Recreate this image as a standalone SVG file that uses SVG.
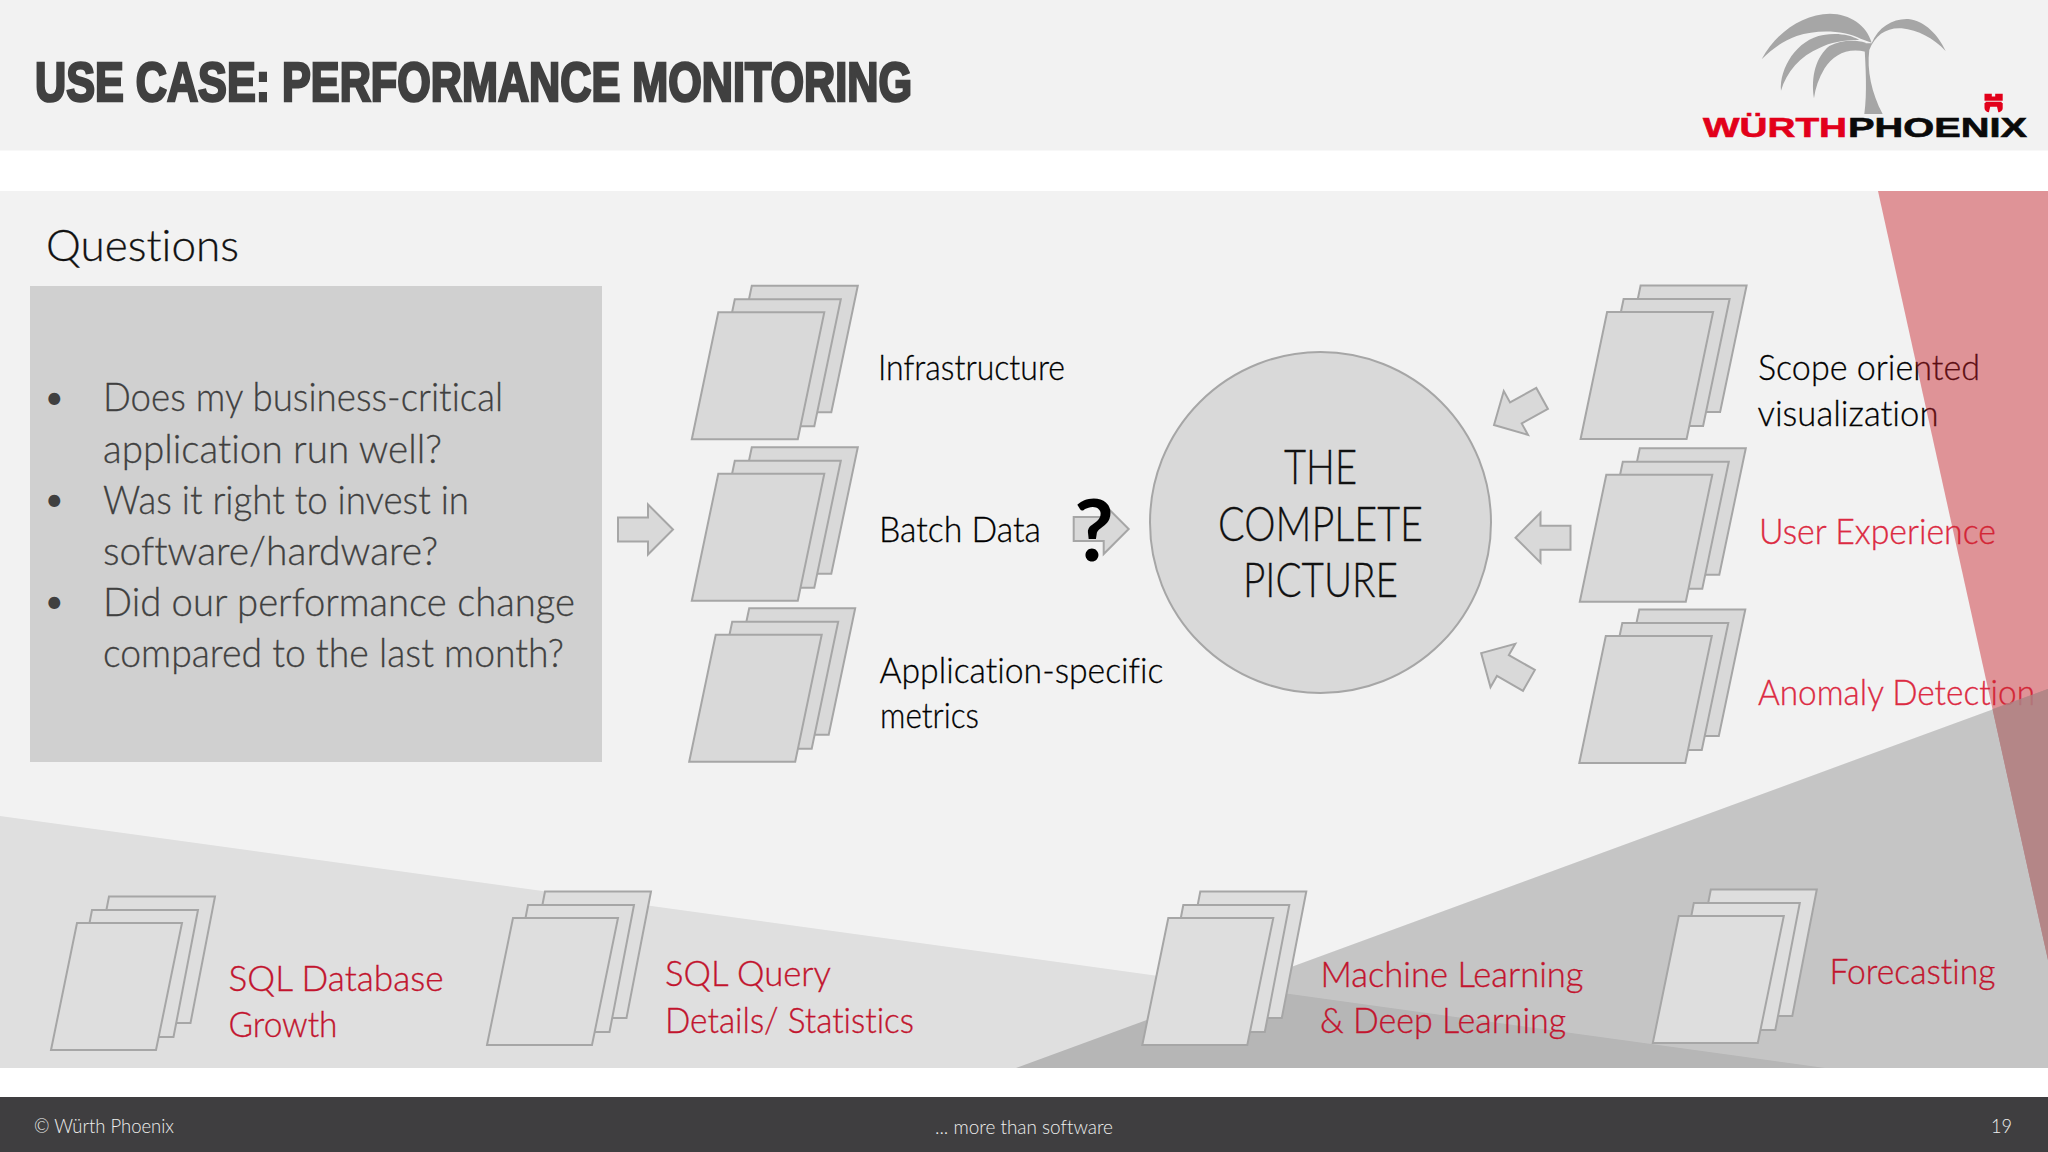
<svg xmlns="http://www.w3.org/2000/svg" width="2048" height="1152" viewBox="0 0 2048 1152">
<style>
text{font-family:"Lato","Liberation Sans",sans-serif;font-weight:300;font-variant-ligatures:none}
.lb{font-size:36px;fill:#000;stroke:#000;stroke-width:.3}
.r1{font-size:36px;fill:#dc2a42;stroke:#dc2a42;stroke-width:.35}
.r2{font-size:36px;fill:#c2142e;stroke:#c2142e;stroke-width:.35}
.bl{font-size:40px;fill:#404040;stroke:#404040;stroke-width:.3}
.bu{font-size:32px;fill:#404040;font-weight:400}
.ct{font-size:48px;fill:#111;stroke:#111;stroke-width:.3;text-anchor:middle}
.ft{font-size:20px;fill:#eee}
.pg{fill:#d9d9d9;stroke:#a6a6a6;stroke-width:2}
.pgl{fill:#dedede;stroke:#a6a6a6;stroke-width:2}
.ar{fill:#d9d9d9;stroke:#a6a6a6;stroke-width:2}
.palm{fill:#a6a6a6}
.logo{font-weight:700;font-size:27px;stroke-width:.6}
.logo,.title{font-family:"Liberation Sans",sans-serif}
.title{font-weight:700;font-size:55px;fill:#404040;stroke:#404040;stroke-width:2.6}
.q{font-weight:700;font-size:86px;fill:#000;text-anchor:middle}
</style>
<defs>
<g id="stack"><polygon class="pg" points="33.5,-27 60,-153.5 166,-153.5 139.5,-27"/><polygon class="pg" points="16.5,-13 43,-140 149,-140 122.5,-13"/><polygon class="pg" points="0,0 26.5,-127 132.5,-127 106,0"/></g>
<g id="stackl"><polygon class="pgl" points="33.5,-27 58,-153.5 164,-153.5 139.5,-27"/><polygon class="pgl" points="16.5,-13 41,-140 147,-140 122.5,-13"/><polygon class="pgl" points="0,0 26,-127 131,-127 105,0"/></g>
<polygon id="arrow" class="ar" points="-27,-12 3,-12 3,-25 28,0 3,25 3,12 -27,12"/>
</defs>
<rect width="2048" height="1152" fill="#fff"/>
<rect id="header" width="2048" height="150.500" fill="#f2f2f2"/>
<rect id="panel" y="191" width="2048" height="877" fill="#f2f2f2"/>
<polygon points="0,816 1825,1068 0,1068" fill="#000" fill-opacity=".08"/>
<rect id="footer" y="1097" width="2048" height="55" fill="#3f3e40"/>
<text class="title" x="35" y="101" textLength="877" lengthAdjust="spacingAndGlyphs">USE CASE: PERFORMANCE MONITORING</text>
<g id="logo">
<g class="palm" transform="translate(1600 0) scale(.3333)">
<path d="M485 178C530 95 610 42 690 41C750 42 800 75 815 128L782 116C730 90 650 88 590 108C550 122 515 148 485 178Z"/>
<path d="M543 272C538 205 590 118 670 105C710 98 750 103 778 120C730 120 690 128 660 143C600 168 560 215 543 272Z"/>
<path d="M642 295C632 230 648 170 688 138C720 122 760 118 797 128L797 155C740 142 700 165 674 205C656 235 646 265 642 295Z"/>
<path d="M793 130L815 130C835 80 880 55 925 57C975 62 1015 105 1037 153C1000 115 955 90 905 85C860 82 825 105 808 150C800 210 815 280 848 342L793 342C802 280 797 200 793 130Z"/>
</g>
<text class="logo" x="1703" y="136.500" fill="#e2001a" stroke="#e2001a" textLength="144" lengthAdjust="spacingAndGlyphs">WÜRTH</text>
<text class="logo" x="1848" y="136.500" fill="#0a0a0a" stroke="#0a0a0a" textLength="179" lengthAdjust="spacingAndGlyphs">PHOENIX</text>
<path d="M1984.500 93.700H1991.800V96.500H1995.200V93.700H2002.700V100.800H1984.500ZM1985.500 101.800H2001.700V103H2002.700V108C2002.700 110.500 2000.500 112.300 1998.300 112.300L1997 106.800H1990.200L1988.900 112.300C1986.700 112.300 1984.500 110.500 1984.500 108V103H1985.500Z" fill="#e2001a"/>
</g>
<text x="46" y="261" font-size="44" fill="#111" stroke="#111" stroke-width=".3" textLength="193" lengthAdjust="spacingAndGlyphs">Questions</text>
<g id="questions">
<rect x="30" y="286" width="572" height="476" fill="#d0d0d0"/>
<text class="bu" x="45" y="409">•</text>
<text class="bu" x="45" y="511">•</text>
<text class="bu" x="45" y="613">•</text>
<text class="bl" x="103" y="411" textLength="400" lengthAdjust="spacingAndGlyphs">Does my business-critical</text>
<text class="bl" x="103" y="463" textLength="339" lengthAdjust="spacingAndGlyphs">application run well?</text>
<text class="bl" x="103" y="514" textLength="366" lengthAdjust="spacingAndGlyphs">Was it right to invest in</text>
<text class="bl" x="103" y="565" textLength="335" lengthAdjust="spacingAndGlyphs">software/hardware?</text>
<text class="bl" x="103" y="616" textLength="472" lengthAdjust="spacingAndGlyphs">Did our performance change</text>
<text class="bl" x="103" y="667" textLength="461" lengthAdjust="spacingAndGlyphs">compared to the last month?</text>
</g>
<g id="connectors">
<use href="#arrow" transform="translate(645 529.500)"/>
<use href="#arrow" transform="translate(1100.700 529)"/>
<use href="#arrow" transform="translate(1543.500 537.700) rotate(180)"/>
<use href="#arrow" transform="translate(1518.500 411.500) rotate(151)"/>
<use href="#arrow" transform="translate(1505.500 667) rotate(209.700)"/>
</g>
<text class="q" x="1094" y="561">?</text>
<g id="complete-picture">
<circle cx="1320.500" cy="522.500" r="170.500" class="pg"/>
<text class="ct" x="1320.500" y="484" textLength="73" lengthAdjust="spacingAndGlyphs">THE</text>
<text class="ct" x="1320.500" y="540.500" textLength="205" lengthAdjust="spacingAndGlyphs">COMPLETE</text>
<text class="ct" x="1320.500" y="597" textLength="155" lengthAdjust="spacingAndGlyphs">PICTURE</text>
</g>
<g id="infrastructure"><use href="#stack" x="691.800" y="439.300"/><text class="lb" x="878" y="380" textLength="187" lengthAdjust="spacingAndGlyphs">Infrastructure</text></g>
<g id="batch-data"><use href="#stack" x="691.800" y="600.700"/><text class="lb" x="879" y="542" textLength="162" lengthAdjust="spacingAndGlyphs">Batch Data</text></g>
<g id="app-metrics"><use href="#stack" x="689.200" y="761.700"/><text class="lb" x="879.500" y="682.500" textLength="284" lengthAdjust="spacingAndGlyphs">Application-specific</text><text class="lb" x="880" y="728" textLength="99" lengthAdjust="spacingAndGlyphs">metrics</text></g>
<g id="scope"><use href="#stack" x="1580.600" y="439"/><text class="lb" x="1758" y="380" textLength="222" lengthAdjust="spacingAndGlyphs">Scope oriented</text><text class="lb" x="1757.500" y="426" textLength="181" lengthAdjust="spacingAndGlyphs">visualization</text></g>
<g id="user-experience"><use href="#stack" x="1579.800" y="601.700"/><text class="r1" x="1759" y="543.500" textLength="237" lengthAdjust="spacingAndGlyphs">User Experience</text></g>
<g id="anomaly"><use href="#stack" x="1579.300" y="763"/><text class="r1" x="1758" y="705" textLength="277" lengthAdjust="spacingAndGlyphs">Anomaly Detection</text></g>
<polygon id="red-wedge" points="1878,191 2048,191 2048,960" fill="#c81e28" fill-opacity=".45"/>
<polygon id="grey-wedge" points="1016,1068 2048,689 2048,1068" fill="#000" fill-opacity=".186"/>
<polygon id="wedge-overlap" points="1992.500,709 2048,689 2048,960" fill="#b4898b" fill-opacity=".8"/>
<g id="sql-db"><use href="#stackl" x="51" y="1050"/><text class="r2" x="228.500" y="991" textLength="215" lengthAdjust="spacingAndGlyphs">SQL Database</text><text class="r2" x="228.500" y="1037" textLength="109" lengthAdjust="spacingAndGlyphs">Growth</text></g>
<g id="sql-query"><use href="#stackl" x="487" y="1045"/><text class="r2" x="665" y="986" textLength="166" lengthAdjust="spacingAndGlyphs">SQL Query</text><text class="r2" x="665" y="1032.500" textLength="249" lengthAdjust="spacingAndGlyphs">Details/ Statistics</text></g>
<g id="ml"><use href="#stackl" x="1142.300" y="1045"/><text class="r2" x="1320.500" y="987" textLength="263" lengthAdjust="spacingAndGlyphs">Machine Learning</text><text class="r2" x="1320" y="1033" textLength="246" lengthAdjust="spacingAndGlyphs">&amp; Deep Learning</text></g>
<g id="forecasting"><use href="#stackl" x="1652.800" y="1043"/><text class="r2" x="1829.500" y="984" textLength="166" lengthAdjust="spacingAndGlyphs">Forecasting</text></g>
<text class="ft" x="34" y="1133" textLength="140" lengthAdjust="spacingAndGlyphs">© Würth Phoenix</text>
<text class="ft" x="935" y="1134" textLength="178" lengthAdjust="spacingAndGlyphs">... more than software</text>
<text class="ft" x="1991" y="1133" textLength="21" lengthAdjust="spacingAndGlyphs">19</text>
</svg>
